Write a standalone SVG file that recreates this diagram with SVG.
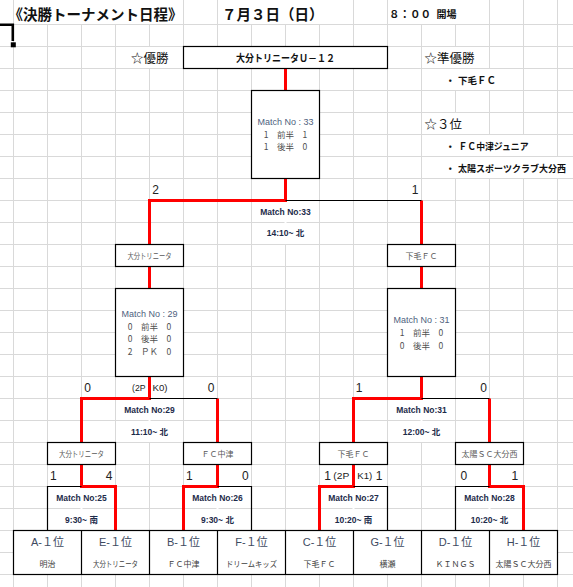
<svg xmlns="http://www.w3.org/2000/svg" width="573" height="587" viewBox="0 0 573 587">
<style>
text{font-family:"Noto Sans CJK JP","Liberation Sans",sans-serif;dominant-baseline:central}
.grid{stroke:#d9d9d9;stroke-width:1;fill:none}
.h{fill:#fff}
.box{fill:#fff;stroke:#000;stroke-width:1.2}
.red{stroke:#ff0000;stroke-width:3;fill:none}
.blk{stroke:#000;stroke-width:1.2;fill:none}
.b{font-weight:bold;fill:#111}
.mt{font-family:"Liberation Sans","Noto Sans CJK JP",sans-serif;font-size:9px;fill:#4f5f80;text-anchor:middle}
.sc{font-size:8.5px;fill:#505050;text-anchor:middle}
.ml{font-family:"Liberation Sans","Noto Sans CJK JP",sans-serif;font-weight:bold;font-size:8.5px;fill:#1d2b4a;text-anchor:middle}
.tm{font-size:8px;fill:#595959;text-anchor:middle}
.num{font-family:"Liberation Sans",sans-serif;font-size:12px;fill:#222;text-anchor:middle}
.pk{font-family:"Liberation Sans",sans-serif;font-size:9.5px;fill:#222}
.pos{font-family:"Liberation Sans","Noto Sans CJK JP",sans-serif;font-size:11px;fill:#3e4a61;text-anchor:middle}
.nm{font-size:8px;fill:#404040;text-anchor:middle}
.st{font-size:12.5px;fill:#111}
.rs{font-size:9.5px;font-weight:bold;fill:#111}
</style>
<g id="grid">
<path class="grid" d="M13.5 0V587M47.5 0V587M81.5 0V587M115.5 0V587M149.5 0V587M183.5 0V587M217.5 0V587M251.5 0V587M285.5 0V587M319.5 0V587M353.5 0V587M387.5 0V587M421.5 0V587M455.5 0V587M489.5 0V587M523.5 0V587M557.5 0V587M0 24.5H573M0 46.5H573M0 68.5H573M0 90.5H573M0 112.5H573M0 134.5H573M0 156.5H573M0 178.5H573M0 200.5H573M0 222.5H573M0 244.5H573M0 266.5H573M0 288.5H573M0 310.5H573M0 332.5H573M0 354.5H573M0 376.5H573M0 398.5H573M0 420.5H573M0 442.5H573M0 464.5H573M0 486.5H573M0 508.5H573M0 530.5H573M0 552.5H573M0 574.5H573"/>
<rect class="h" x="14.5" y="0" width="168" height="24"/>
<rect class="h" x="218.5" y="0" width="134" height="24"/>
<rect class="h" x="388.5" y="0" width="100" height="24"/>
<rect class="h" x="148.5" y="47" width="2" height="21"/>
<rect class="h" x="454.5" y="47" width="2" height="21"/>
<rect class="h" x="454.5" y="69" width="36" height="21"/>
<rect class="h" x="454.5" y="113" width="2" height="21"/>
<rect class="h" x="454.5" y="135" width="70" height="21"/>
<rect class="h" x="454.5" y="157" width="104" height="21"/>
<rect class="h" x="284.5" y="201" width="2" height="43"/>
<rect class="h" x="148.5" y="399" width="2" height="43"/>
<rect class="h" x="420.5" y="399" width="2" height="43"/>
<rect class="h" x="80.5" y="487" width="2" height="43"/>
<rect class="h" x="216.5" y="487" width="2" height="43"/>
<rect class="h" x="352.5" y="487" width="2" height="43"/>
<rect class="h" x="488.5" y="487" width="2" height="43"/>
</g>
<g id="selection">
<path d="M0 24.7H12.8V41" stroke="#000" stroke-width="2.6" fill="none"/>
<rect x="10.8" y="42.3" width="5" height="5" fill="#000"/>
</g>
<g id="header">
<text class="b" x="8.5" y="13" font-size="14.5">《決勝トーナメント日程》</text>
<text class="b" x="222" y="13" font-size="14.5">７月３日（日）</text>
<text class="b" x="389" y="13" font-size="10.5">８：００</text>
<text class="b" x="436.5" y="13" font-size="10">開場</text>
</g>
<g id="connectors">
<path class="red" d="M285.5 69V90M285.5 179V200.5H149.5V244M421.5 200.5V244M149.5 267V288M421.5 267V288M149.5 377V398.5H81.5V442M217.5 398.5V442M421.5 377V398.5H353.5V442M489.5 398.5V442M81.5 465V486.5H115.5V530M217.5 465V486.5H183.5V530M353.5 465V486.5H319.5V530M489.5 465V486.5H523.5V530"/>
<path class="blk" d="M285.5 200.5H421.5M149.5 398.5H217.5M421.5 398.5H489.5"/>
</g>
<g id="champion">
<text class="st" x="131" y="57.5">☆優勝</text>
<rect class="box" x="183.5" y="46.5" width="204" height="22"/>
<text class="b" x="285.5" y="57.5" font-size="10" text-anchor="middle" textLength="99" lengthAdjust="spacingAndGlyphs">大分トリニータＵ－１２</text>
</g>
<g id="results">
<text class="st" x="424.5" y="57.5">☆準優勝</text>
<text class="rs" x="445.5" y="79.5">・</text>
<text class="rs" x="458" y="79.5">下毛ＦＣ</text>
<text class="st" x="424.5" y="123.5">☆３位</text>
<text class="rs" x="445.5" y="145.5">・</text>
<text class="rs" x="458.5" y="145.5" textLength="70" lengthAdjust="spacingAndGlyphs">ＦＣ中津ジュニア</text>
<text class="rs" x="445.5" y="167.5">・</text>
<text class="rs" x="458" y="167.5" textLength="108" lengthAdjust="spacingAndGlyphs">太陽スポーツクラブ大分西</text>
</g>
<g id="match33">
<rect class="box" x="251.5" y="90.5" width="68" height="88"/>
<text class="mt" x="285.5" y="121.7">Match No : 33</text>
<text class="sc" x="285.5" y="134">1　前半　1</text>
<text class="sc" x="285.5" y="146.3">1　後半　0</text>
<text class="num" x="155.7" y="190">2</text>
<text class="num" x="415" y="190">1</text>
<text class="ml" x="285.5" y="211.5">Match No:33</text>
<text class="ml" x="285.5" y="233.3">14:10~ 北</text>
</g>
<g id="team-oita-sf">
<rect class="box" x="115.5" y="244.5" width="68" height="22"/>
<text class="tm" x="149.5" y="255.5" textLength="44" lengthAdjust="spacingAndGlyphs">大分トリニータ</text>
</g>
<g id="team-shimoge-sf">
<rect class="box" x="387.5" y="244.5" width="68" height="22"/>
<text class="tm" x="421.5" y="255.5">下毛ＦＣ</text>
</g>
<g id="match29">
<rect class="box" x="115.5" y="288.5" width="68" height="88"/>
<text class="mt" x="149.5" y="314">Match No : 29</text>
<text class="sc" x="149.5" y="326.2">0　前半　0</text>
<text class="sc" x="149.5" y="338.4">0　後半　0</text>
<text class="sc" x="149.5" y="350.6">2　ＰＫ　0</text>
<text class="num" x="87.5" y="387.5">0</text>
<text class="pk" x="132" y="387.5" textLength="13.5" lengthAdjust="spacingAndGlyphs">(2P</text>
<text class="pk" x="152.5" y="387.5" textLength="15" lengthAdjust="spacingAndGlyphs">K0)</text>
<text class="num" x="211.2" y="387.5">0</text>
<text class="ml" x="149.5" y="409.5">Match No:29</text>
<text class="ml" x="149.5" y="431.5">11:10~ 北</text>
</g>
<g id="match31">
<rect class="box" x="387.5" y="288.5" width="68" height="88"/>
<text class="mt" x="421.5" y="320">Match No : 31</text>
<text class="sc" x="421.5" y="332.3">1　前半　0</text>
<text class="sc" x="421.5" y="344.5">0　後半　0</text>
<text class="num" x="359.2" y="387.5">1</text>
<text class="num" x="483.7" y="387.5">0</text>
<text class="ml" x="421.5" y="409.5">Match No:31</text>
<text class="ml" x="421.5" y="431.5">12:00~ 北</text>
</g>
<g id="team-oita-qf">
<rect class="box" x="47.5" y="442.5" width="68" height="22"/>
<text class="tm" x="81.5" y="453.5" textLength="45" lengthAdjust="spacingAndGlyphs">大分トリニータ</text>
</g>
<g id="team-nakatsu-qf">
<rect class="box" x="183.5" y="442.5" width="68" height="22"/>
<text class="tm" x="217.5" y="453.5">ＦＣ中津</text>
</g>
<g id="team-shimoge-qf">
<rect class="box" x="319.5" y="442.5" width="68" height="22"/>
<text class="tm" x="353.5" y="453.5">下毛ＦＣ</text>
</g>
<g id="team-taiyo-qf">
<rect class="box" x="455.5" y="442.5" width="68" height="22"/>
<text class="tm" x="489.5" y="453.5">太陽ＳＣ大分西</text>
</g>
<g id="match25">
<path class="blk" d="M47.5 530.5V486.5H81.5"/>
<text class="num" x="53.3" y="475.5">1</text>
<text class="num" x="109.2" y="475.5">4</text>
<text class="ml" x="81.5" y="497.5">Match No:25</text>
<text class="ml" x="81.5" y="519.5">9:30~ 南</text>
</g>
<g id="match26">
<path class="blk" d="M217.5 486.5H251.5V530.5"/>
<text class="num" x="189.3" y="475.5">1</text>
<text class="num" x="245.3" y="475.5">0</text>
<text class="ml" x="217.5" y="497.5">Match No:26</text>
<text class="ml" x="217.5" y="519.5">9:30~ 北</text>
</g>
<g id="match27">
<path class="blk" d="M353.5 486.5H387.5V530.5"/>
<text class="num" x="327.5" y="475.5">1</text>
<text class="pk" x="333.3" y="475.5" font-size="9" textLength="16" lengthAdjust="spacingAndGlyphs">(2P</text>
<text class="pk" x="357.3" y="475.5" font-size="9" textLength="15" lengthAdjust="spacingAndGlyphs">K1)</text>
<text class="num" x="379" y="475.5">1</text>
<text class="ml" x="353.5" y="497.5">Match No:27</text>
<text class="ml" x="353.5" y="519.5">10:20~ 南</text>
</g>
<g id="match28">
<path class="blk" d="M489.5 486.5H455.5V530.5"/>
<text class="num" x="463.8" y="475.5">0</text>
<text class="num" x="514.8" y="475.5">1</text>
<text class="ml" x="489.5" y="497.5">Match No:28</text>
<text class="ml" x="489.5" y="519.5">10:20~ 北</text>
</g>
<g id="seeds">
<rect class="box" x="13.5" y="530.5" width="544" height="44"/>
<path class="blk" d="M81.5 530.5V574.5M149.5 530.5V574.5M217.5 530.5V574.5M285.5 530.5V574.5M353.5 530.5V574.5M421.5 530.5V574.5M489.5 530.5V574.5"/>
<g id="seed-A"><text class="pos" x="47.5" y="541.5">A-１位</text><text class="nm" x="47.5" y="563.5">明治</text></g>
<g id="seed-E"><text class="pos" x="115.5" y="541.5">E-１位</text><text class="nm" x="115.5" y="563.5" textLength="45" lengthAdjust="spacingAndGlyphs">大分トリニータ</text></g>
<g id="seed-B"><text class="pos" x="183.5" y="541.5">B-１位</text><text class="nm" x="183.5" y="563.5">ＦＣ中津</text></g>
<g id="seed-F"><text class="pos" x="251.5" y="541.5">F-１位</text><text class="nm" x="251.5" y="563.5" textLength="51" lengthAdjust="spacingAndGlyphs">ドリームキッズ</text></g>
<g id="seed-C"><text class="pos" x="319.5" y="541.5">C-１位</text><text class="nm" x="319.5" y="563.5">下毛ＦＣ</text></g>
<g id="seed-G"><text class="pos" x="387.5" y="541.5">G-１位</text><text class="nm" x="387.5" y="563.5">横瀬</text></g>
<g id="seed-D"><text class="pos" x="455.5" y="541.5">D-１位</text><text class="nm" x="455.5" y="563.5">ＫＩＮＧＳ</text></g>
<g id="seed-H"><text class="pos" x="523.5" y="541.5">H-１位</text><text class="nm" x="523.5" y="563.5">太陽ＳＣ大分西</text></g>
</g>
</svg>
